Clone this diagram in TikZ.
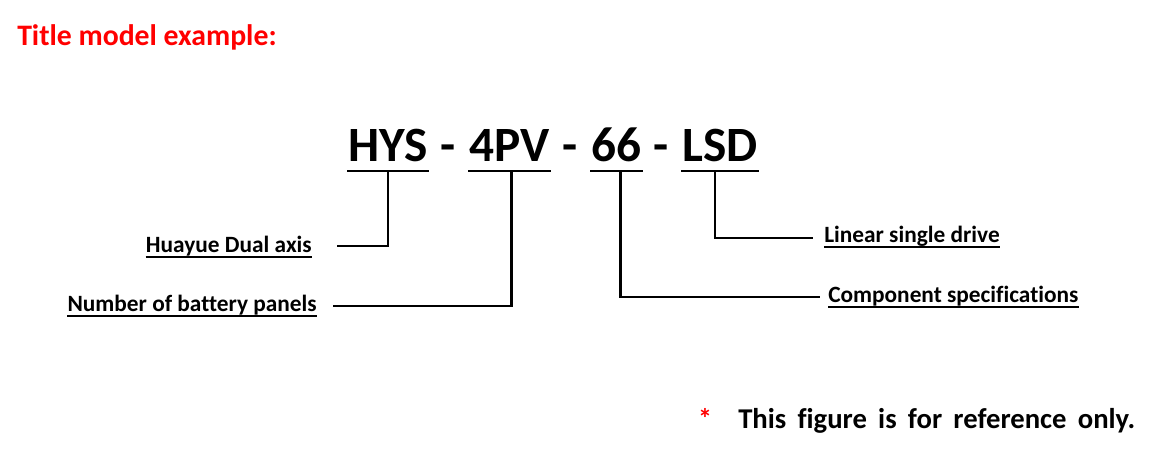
\documentclass[tikz,border=0pt]{standalone}
\usepackage{fontspec}
\setmainfont{Carlito}[Ligatures={NoCommon}]
\usetikzlibrary{calc}
\tikzset{
  code/.style={font=\fontsize{37}{41}\selectfont\bfseries, inner sep=0pt, anchor=base west},
  desc/.style={font=\fontsize{17.5}{20}\selectfont\bfseries, inner sep=0pt},
  codeline/.style={line width=2.2pt},
  lead/.style={line width=1.9pt},
  descline/.style={line width=1.4pt},
}
\begin{document}
\begin{tikzpicture}[x=0.75pt,y=-0.75pt]
  \useasboundingbox (0,0) rectangle (1160,459);
  % title
  \node[anchor=base west, inner sep=0pt, text=red, font=\fontsize{22.3}{26}\selectfont\bfseries] (title) at (17,46) {Title model example:};

  % model code
  \node[code] (hys) at (348,162) {HYS};
  \node[code] (pv) at (469,162) {4PV};
  \node[code] (sz) at (591,162) {66};
  \node[code] (lsd) at (682,162) {LSD};
  \node[code, anchor=base] (d1) at (448,162) {-};
  \node[code, anchor=base] (d2) at (570,162) {-};
  \node[code, anchor=base] (d3) at (661,162) {-};
  \foreach \p in {hys,pv,sz,lsd}
    \draw[codeline] ($(\p.base west)+(-1,9)$) -- ($(\p.base east)+(1,9)$);

  % leader start points
  \coordinate (hysu) at ($(hys.base)+(0,9)$);
  \coordinate (pvu) at ($(pv.base)+(2,9)$);
  \coordinate (szu) at ($(sz.base)+(4,9)$);
  \coordinate (lsdu) at ($(lsd.base)+(-5,9)$);

  % descriptions
  \node[desc, anchor=base east] (dual) at (312,253) {Huayue Dual axis};
  \node[desc, anchor=base east] (panels) at (317,312) {Number of battery panels};
  \node[desc, anchor=base west] (drive) at (824,243) {Linear single drive};
  \node[desc, anchor=base west] (spec) at (828,303) {Component specifications};
  \foreach \d in {dual,panels,drive,spec}
    \draw[descline] ($(\d.base west)+(0,4)$) -- ($(\d.base east)+(0,4)$);

  % leaders
  \draw[lead] (hysu) |- ($(dual.base east)+(25,-7)$);
  \draw[lead] (pvu) |- ($(panels.base east)+(16,-6)$);
  \draw[lead] (lsdu) |- ($(drive.base west)+(-11,-5)$);
  \draw[lead] (szu) |- ($(spec.base west)+(-8,-6)$);

  % note
  \node[anchor=base, inner sep=0pt, text=red, font=\fontsize{21}{24}\selectfont\bfseries] (star) at (705,428) {*};
  \node[anchor=base west, inner sep=0pt, font=\fontsize{21.5}{24}\selectfont\bfseries] (note) at (738,428) {\makebox[297.75pt][s]{This figure is for reference only.}};
\end{tikzpicture}
\end{document}
